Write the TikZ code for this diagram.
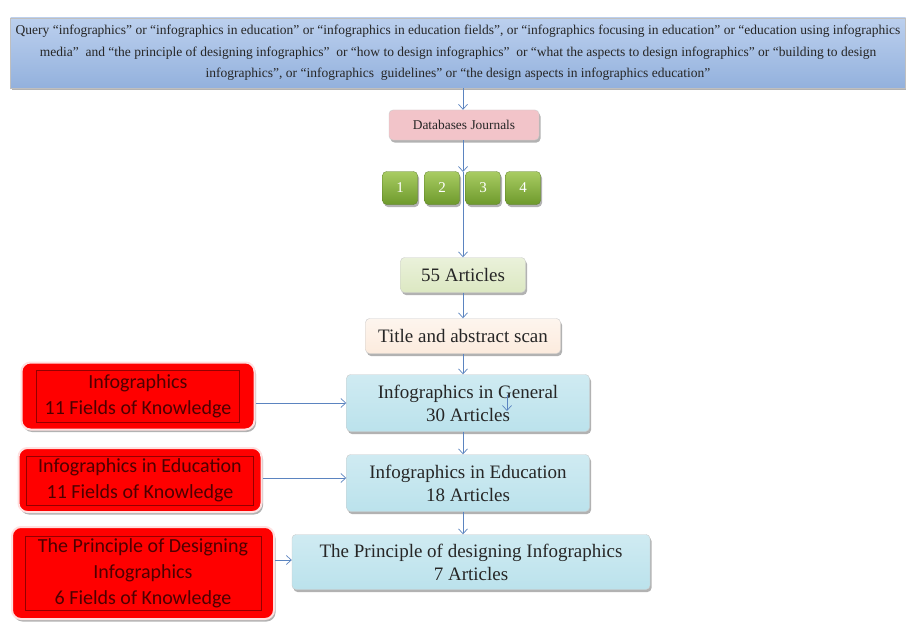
\documentclass[tikz,border=0pt]{standalone}
\usepackage{fontspec}
\setmainfont{Liberation Serif}
\newfontfamily\redfont{Carlito}
\usetikzlibrary{arrows.meta,shadows}
\definecolor{qtop}{HTML}{BCD0EE}
\definecolor{qbot}{HTML}{93B1DD}
\definecolor{arrowc}{HTML}{5B84C0}
\definecolor{pinkbox}{HTML}{F2C4C9}
\definecolor{gtop}{HTML}{A9CC63}
\definecolor{gbot}{HTML}{6E9A2C}
\definecolor{lgreen}{HTML}{DCE8C2}
\definecolor{cream}{HTML}{FCEBDD}
\definecolor{cyanbox}{HTML}{BBE2EC}
\definecolor{redtext}{HTML}{4E0000}
\begin{document}
\begin{tikzpicture}[x=1pt,y=-1pt,
  arr/.style={draw=arrowc, line width=0.7pt, -{Straight Barb[length=5pt,width=9pt]}},
  shad/.style={drop shadow={shadow xshift=1.5pt,shadow yshift=-2.5pt,fill=black,opacity=0.3}},
  cbox/.style={shad, rounded corners=4pt, draw=black!20, line width=0.4pt, align=center, inner sep=0pt, text=black!85},
  numbox/.style={shad, rounded corners=4pt, top color=gtop, bottom color=gbot, draw=gbot!80!black, line width=0.3pt,
     minimum width=35pt, minimum height=33pt, text=white, font=\fontsize{15}{15}\selectfont},
  redbox/.style={shad, rounded corners=9pt, fill=red, draw=red!12, line width=2pt, align=center, text=redtext,
     font=\redfont\fontsize{20}{26}\selectfont, inner sep=0pt},
  inner/.style={draw=redtext!60!red, line width=0.4pt}
]
\useasboundingbox (0,0) rectangle (906,626);
\fill[white] (0,0) rectangle (906,626);

% top query box
\node[shad, top color=qtop, bottom color=qbot, draw=black!25, line width=0.4pt, minimum width=895pt, minimum height=70pt,
  align=center, inner sep=0pt, text=black!85, font=\fontsize{13.5}{21.5}\selectfont] (q) at (458,53)
  {Query “infographics” or “infographics in education” or “infographics in education fields”, or “infographics focusing in education” or “education using infographics\\
   media”\ \ and “the principle of designing infographics”\ \ or “how to design infographics”\ \ or “what the aspects to design infographics” or “building to design\\
   infographics”, or “infographics\ \ guidelines” or “the design aspects in infographics education”};

% column
\node[cbox, fill=pinkbox, minimum width=150pt, minimum height=30pt, font=\fontsize{13.4}{13.4}\selectfont] (dj) at (464,125) {Databases Journals};
\node[numbox] (n1) at (400,188) {1};
\node[numbox] (n2) at (442,188) {2};
\node[numbox] (n3) at (483,188) {3};
\node[numbox] (n4) at (523,188) {4};
\coordinate (nt) at (463,172);
\node[cbox, top color=lgreen!60!white, bottom color=lgreen, minimum width=125pt, minimum height=35pt, font=\fontsize{19}{19}\selectfont] (a55) at (463,275) {55 Articles};
\node[cbox, top color=cream!50!white, bottom color=cream, minimum width=195pt, minimum height=35pt, font=\fontsize{19}{19}\selectfont] (ts) at (463,336) {Title and abstract scan};
\node[cbox, top color=cyanbox!70!white, bottom color=cyanbox, minimum width=243pt, minimum height=57pt, font=\fontsize{19}{23}\selectfont] (gen) at (468,403) {Infographics in General\\30 Articles};
\node[cbox, top color=cyanbox!70!white, bottom color=cyanbox, minimum width=243pt, minimum height=57pt, font=\fontsize{19}{23}\selectfont] (edu) at (468,483) {Infographics in Education\\18 Articles};
\node[cbox, top color=cyanbox!70!white, bottom color=cyanbox, minimum width=358pt, minimum height=55pt, font=\fontsize{19}{23}\selectfont] (pri) at (471,562) {The Principle of designing Infographics\\7 Articles};

% red boxes
\node[redbox, minimum width=233pt, minimum height=67pt] (r1) at (138,396) {Infographics\\11 Fields of Knowledge};
\node[redbox, minimum width=243pt, minimum height=64pt] (r2) at (140,480) {Infographics in Education\\11 Fields of Knowledge};
\node[redbox, minimum width=262pt, minimum height=92pt] (r3) at (143,573) {The Principle of Designing\\Infographics\\6 Fields of Knowledge};
\draw[inner] ([shift={(16pt,-9pt)}]r1.north west) rectangle ([shift={(-16pt,8pt)}]r1.south east);
\draw[inner] ([shift={(9pt,-9pt)}]r2.north west) rectangle ([shift={(-9pt,8pt)}]r2.south east);
\draw[inner] ([shift={(14pt,-10pt)}]r3.north west) rectangle ([shift={(-14pt,10pt)}]r3.south east);

% connectors
\draw[arr] (q.south -| nt) -- (dj.north -| nt);
\draw[arr] (dj.south -| nt) -- (nt);
\draw[arr] (nt) -- (a55.north -| nt);
\draw[arr] (a55.south -| nt) -- (ts.north -| nt);
\draw[arr] (ts.south -| nt) -- (gen.north -| nt);
\draw[arr] (gen.south -| nt) -- (edu.north -| nt);
\draw[arr] (edu.south -| nt) -- (pri.north -| nt);
\coordinate (s1) at (507,395);
\coordinate (s2) at (507,411);
\draw[arr] (s1) -- (s2);
\draw[arr] (r1.east |- gen.west) -- (gen.west);
\draw[arr] (r2.east |- 0,478) -- (edu.west |- 0,478);
\draw[arr] (r3.east |- 0,560) -- (pri.west |- 0,560);
\end{tikzpicture}
\end{document}
